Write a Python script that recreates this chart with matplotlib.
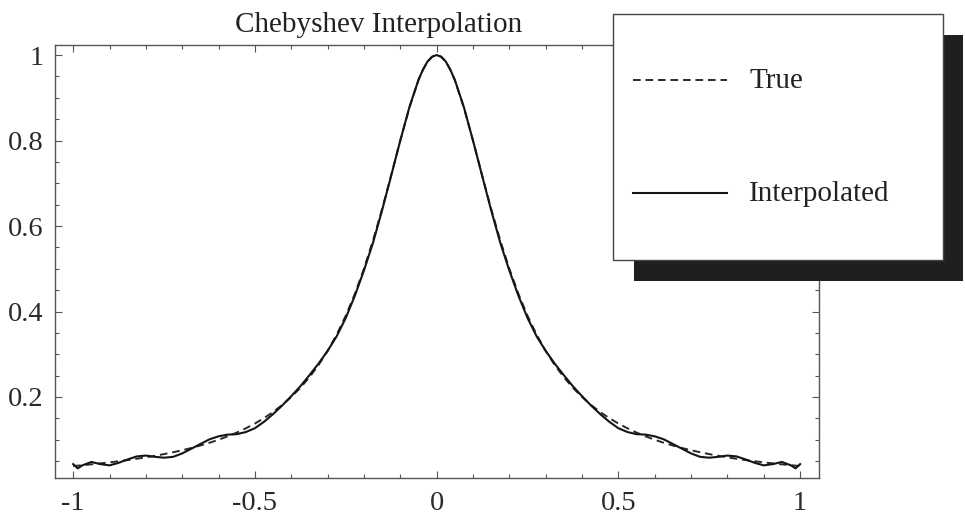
import matplotlib
matplotlib.use("Agg")
import matplotlib.pyplot as plt
from matplotlib.patches import Rectangle
from matplotlib.lines import Line2D
from matplotlib.ticker import MultipleLocator

plt.rcParams['font.family'] = ['Liberation Serif', 'DejaVu Serif']
plt.rcParams['axes.unicode_minus'] = False
plt.rcParams['lines.scale_dashes'] = False

title = "Chebyshev Interpolation"
series_names = ["True", "Interpolated"]

x_vals = [-1.0, -0.9875, -0.975, -0.95, -0.925, -0.9, -0.875, -0.85, -0.825, -0.8,
          -0.775, -0.75, -0.725, -0.7, -0.675, -0.65, -0.625, -0.6, -0.575, -0.55,
          -0.525, -0.5, -0.475, -0.45, -0.425, -0.4, -0.375, -0.35, -0.325, -0.3,
          -0.275, -0.25, -0.225, -0.2, -0.175, -0.15, -0.125, -0.1, -0.075, -0.05,
          -0.0375, -0.025, -0.0125, 0.0, 0.0125, 0.025, 0.0375, 0.05, 0.075, 0.1,
          0.125, 0.15, 0.175, 0.2, 0.225, 0.25, 0.275, 0.3, 0.325, 0.35,
          0.375, 0.4, 0.425, 0.45, 0.475, 0.5, 0.525, 0.55, 0.575, 0.6,
          0.625, 0.65, 0.675, 0.7, 0.725, 0.75, 0.775, 0.8, 0.825, 0.85,
          0.875, 0.9, 0.925, 0.95, 0.975, 0.9875, 1.0]

true_vals = [0.0385, 0.0394, 0.0404, 0.0424, 0.0447, 0.0471, 0.0497, 0.0525, 0.0555, 0.0588,
             0.0624, 0.0664, 0.0707, 0.0755, 0.0807, 0.0865, 0.0929, 0.1000, 0.1079, 0.1168,
             0.1267, 0.1379, 0.1506, 0.1649, 0.1813, 0.2000, 0.2215, 0.2462, 0.2747, 0.3077,
             0.3459, 0.3902, 0.4414, 0.5000, 0.5664, 0.6400, 0.7191, 0.8000, 0.8767, 0.9412,
             0.9660, 0.9846, 0.9961, 1.0000, 0.9961, 0.9846, 0.9660, 0.9412, 0.8767, 0.8000,
             0.7191, 0.6400, 0.5664, 0.5000, 0.4414, 0.3902, 0.3459, 0.3077, 0.2747, 0.2462,
             0.2215, 0.2000, 0.1813, 0.1649, 0.1506, 0.1379, 0.1267, 0.1168, 0.1079, 0.1000,
             0.0929, 0.0865, 0.0807, 0.0755, 0.0707, 0.0664, 0.0624, 0.0588, 0.0555, 0.0525,
             0.0497, 0.0471, 0.0447, 0.0424, 0.0404, 0.0394, 0.0385]

interp_vals = [0.043, 0.033, 0.040, 0.048, 0.043, 0.040, 0.046, 0.054, 0.061, 0.063,
               0.060, 0.058, 0.060, 0.068, 0.079, 0.090, 0.101, 0.108, 0.112, 0.113,
               0.118, 0.127, 0.142, 0.160, 0.180, 0.202, 0.225, 0.251, 0.278, 0.308,
               0.342, 0.385, 0.437, 0.496, 0.561, 0.637, 0.718, 0.800, 0.878, 0.942,
               0.966, 0.985, 0.996, 1.000, 0.996, 0.985, 0.966, 0.942, 0.878, 0.800,
               0.718, 0.637, 0.561, 0.496, 0.437, 0.385, 0.342, 0.308, 0.278, 0.251,
               0.225, 0.202, 0.180, 0.160, 0.142, 0.127, 0.118, 0.113, 0.112, 0.108,
               0.101, 0.090, 0.079, 0.068, 0.060, 0.058, 0.060, 0.063, 0.061, 0.054,
               0.046, 0.040, 0.043, 0.048, 0.040, 0.033, 0.043]

x_ticks = [-1, -0.5, 0, 0.5, 1]
x_ticklabels = ["-1", "-0.5", "0", "0.5", "1"]
y_ticks = [0.2, 0.4, 0.6, 0.8, 1.0]
y_ticklabels = ["0.2", "0.4", "0.6", "0.8", "1"]

W, H = 965, 518
fig = plt.figure(figsize=(W / 100, H / 100), dpi=100)
ax = fig.add_axes([55 / W, 1 - 478 / H, (819 - 55) / W, (478 - 45) / H])

line_true, = ax.plot(x_vals, true_vals, color='#2a2a2a', lw=1.4, dashes=(5.5, 3.5))
line_int, = ax.plot(x_vals, interp_vals, color='#151515', lw=1.5)

ax.set_xlim(-1.05, 1.052)
ax.set_ylim(0.0105, 1.0235)
ax.set_xticks(x_ticks)
ax.set_xticklabels(x_ticklabels)
ax.set_yticks(y_ticks)
ax.set_yticklabels(y_ticklabels)
ax.xaxis.set_minor_locator(MultipleLocator(0.1))
ax.yaxis.set_minor_locator(MultipleLocator(0.05))
ax.tick_params(which='both', direction='in', top=True, right=True, color='#555555', width=0.8)
ax.tick_params(which='major', length=5, labelsize=20.5, colors='#555555', labelcolor='#2a2a2a')
ax.tick_params(which='minor', length=3)
ax.tick_params(axis='x', which='major', pad=9)
ax.tick_params(axis='y', which='major', pad=8)
for sp in ax.spines.values():
    sp.set_color('#555555')
    sp.set_linewidth(1.0)

fig.text(378.5 / W, 1 - 32 / H, title, ha='center', va='baseline', fontsize=21, color='#222222')

# legend with drop shadow
def fx(px):
    return px / W

def fy(py):
    return 1 - py / H

shadow = Rectangle((fx(634), fy(281)), fx(963) - fx(634), fy(35) - fy(281),
                   transform=fig.transFigure, facecolor='#1d201e', edgecolor='none', zorder=10)
box = Rectangle((fx(613), fy(260)), fx(943) - fx(613), fy(14) - fy(260),
                transform=fig.transFigure, facecolor='white', edgecolor='#444444', lw=1.0, zorder=11)
fig.patches.extend([shadow, box])

entries = [(line_true, series_names[0], 80), (line_int, series_names[1], 193)]
for ln, name, py in entries:
    sample = Line2D([fx(633), fx(727)], [fy(py), fy(py)], transform=fig.transFigure,
                    color=ln.get_color(), lw=ln.get_linewidth(), linestyle=ln.get_linestyle(), zorder=12)
    if ln is line_true:
        sample.set_dashes((5.5, 3.5))
    fig.lines.append(sample)
    fig.text(fx(749), fy(py + 1), name, ha='left', va='center', fontsize=21, color='#222222', zorder=12)

fig.savefig("out.png", dpi=100)
